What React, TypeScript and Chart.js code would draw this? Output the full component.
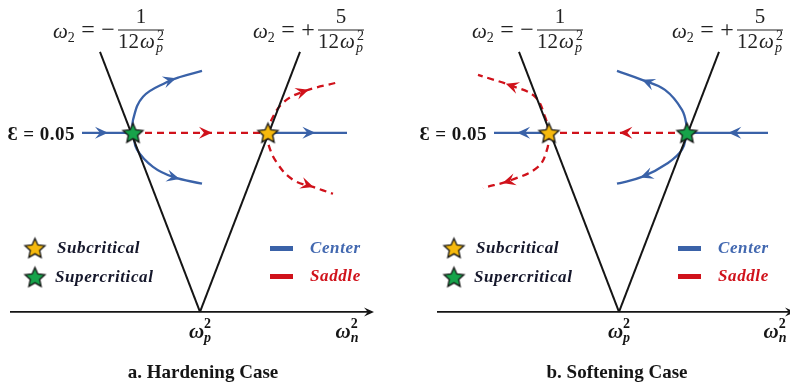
import React, { useEffect, useRef } from "react";
import { Chart, registerables } from "chart.js";

Chart.register(...registerables);

type Pt = [number, number];

// Vertical axis is the detuning level ε, horizontal axis is ωn² normalised so that ωp² = 1.
const EPSILON = 0.05;
const OMEGA_P2 = 1;
const Y_RANGE: Pt = [-0.0204, 0.0871];
const PX_PER_UNIT = 200;

// Stability boundaries ω2 = −1/(12ωp²) and ω2 = +5/(12ωp²), meeting at ωp².
const boundaryMinus: Pt[] = [[OMEGA_P2, 0], [0.5, 0.0726]];
const boundaryPlus: Pt[] = [[OMEGA_P2, 0], [1.5, 0.0726]];

// a. Hardening case
const hardAxis: Pt[] = [[0.05, 0], [1.86, 0]];
const hardRowIn: Pt[] = [[0.41, EPSILON], [0.665, EPSILON]];
const hardRowSaddle: Pt[] = [[0.665, EPSILON], [1.34, EPSILON]];
const hardRowOut: Pt[] = [[1.34, EPSILON], [1.735, EPSILON]];
const hardCenterUp: Pt[] = [[0.665, 0.05], [0.665, 0.0536], [0.715, 0.0601], [0.835, 0.0642], [0.9, 0.0656], [1.01, 0.0673]];
const hardCenterDown: Pt[] = [[0.665, 0.05], [0.685, 0.0453], [0.765, 0.0405], [0.865, 0.0377], [1.01, 0.0358]];
const hardSaddleUp: Pt[] = [[1.34, 0.05], [1.35, 0.0528], [1.415, 0.0584], [1.515, 0.0615], [1.695, 0.0642]];
const hardSaddleDown: Pt[] = [[1.34, 0.05], [1.34, 0.0472], [1.385, 0.0416], [1.465, 0.0369], [1.565, 0.0349], [1.665, 0.033]];
const hardSubcritical: Pt[] = [[1.34, EPSILON]];
const hardSupercritical: Pt[] = [[0.665, EPSILON]];
const hardArrowAt = [0.51, 0.585, 0.6, 0.74, 0.755, 0.67, 0.79];

// b. Softening case
const softAxis: Pt[] = [[0.09, 0], [1.87, 0]];
const softRowIn: Pt[] = [[1.745, EPSILON], [1.34, EPSILON]];
const softRowSaddle: Pt[] = [[1.34, EPSILON], [0.65, EPSILON]];
const softRowOut: Pt[] = [[0.65, EPSILON], [0.375, EPSILON]];
const softCenterUp: Pt[] = [[1.34, 0.05], [1.34, 0.0514], [1.315, 0.0564], [1.23, 0.062], [1.115, 0.0648], [0.99, 0.0673]];
const softCenterDown: Pt[] = [[1.34, 0.05], [1.315, 0.0453], [1.245, 0.0416], [1.115, 0.0377], [0.99, 0.0358]];
const softSaddleUp: Pt[] = [[0.65, 0.05], [0.63, 0.0545], [0.58, 0.0601], [0.465, 0.0631], [0.295, 0.0662]];
const softSaddleDown: Pt[] = [[0.65, 0.05], [0.64, 0.0453], [0.595, 0.0405], [0.465, 0.0369], [0.32, 0.0346]];
const softSubcritical: Pt[] = [[0.65, EPSILON]];
const softSupercritical: Pt[] = [[1.34, EPSILON]];
const softArrowAt = [0.49, 0.49, 0.58, 0.74, 0.74, 0.71, 0.79];

const BLUE = "#3a62a8";
const RED = "#d0121b";
const INK = "#151515";
const YELLOW = "#f6b90d";
const GREEN = "#16a34a";

interface PanelSpec {
  left: number;
  width: number;
  axis: Pt[];
  rowIn: Pt[];
  rowSaddle: Pt[];
  rowOut: Pt[];
  centerUp: Pt[];
  centerDown: Pt[];
  saddleUp: Pt[];
  saddleDown: Pt[];
  subcritical: Pt[];
  supercritical: Pt[];
  arrowAt: number[];
  caption: string;
  captionX: number;
  flowLegendX: number;
  nLabelX: number;
}

const PANELS: PanelSpec[] = [
  {
    left: 0, width: 419,
    axis: hardAxis, rowIn: hardRowIn, rowSaddle: hardRowSaddle, rowOut: hardRowOut,
    centerUp: hardCenterUp, centerDown: hardCenterDown, saddleUp: hardSaddleUp, saddleDown: hardSaddleDown,
    subcritical: hardSubcritical, supercritical: hardSupercritical, arrowAt: hardArrowAt,
    caption: "a. Hardening Case", captionX: 203, flowLegendX: 270, nLabelX: 347,
  },
  {
    left: 419, width: 371,
    axis: softAxis, rowIn: softRowIn, rowSaddle: softRowSaddle, rowOut: softRowOut,
    centerUp: softCenterUp, centerDown: softCenterDown, saddleUp: softSaddleUp, saddleDown: softSaddleDown,
    subcritical: softSubcritical, supercritical: softSupercritical, arrowAt: softArrowAt,
    caption: "b. Softening Case", captionX: 198, flowLegendX: 259, nLabelX: 356,
  },
];

const toXY = (pts: Pt[]) => pts.map(([x, y]) => ({ x, y }));

function starImage(fill: string, r = 10.5): HTMLCanvasElement {
  const size = Math.ceil(r * 2 + 4);
  const c = document.createElement("canvas");
  c.width = size;
  c.height = size;
  const g = c.getContext("2d")!;
  g.translate(size / 2, size / 2 + 0.9);
  g.beginPath();
  for (let i = 0; i < 10; i++) {
    const rad = i % 2 === 0 ? r : r * 0.47;
    const a = -Math.PI / 2 + (i * Math.PI) / 5;
    g.lineTo(rad * Math.cos(a), rad * Math.sin(a));
  }
  g.closePath();
  g.fillStyle = fill;
  g.fill();
  g.lineWidth = 1.3;
  g.lineJoin = "miter";
  g.strokeStyle = INK;
  g.stroke();
  return c;
}

function flowLine(pts: Pt[], color: string, dashed: boolean, curved: boolean) {
  return {
    data: toXY(pts),
    showLine: true,
    borderColor: color,
    borderWidth: 2.3,
    borderDash: dashed ? [7, 5] : [],
    tension: curved ? 0.4 : 0,
    pointRadius: 0,
    order: 3,
    clip: false as const,
  };
}

// Sample a dataset's rendered path (following bezier control points when the line is curved).
function renderedPath(meta: any): { x: number; y: number }[] {
  const pts = meta.data as any[];
  const out: { x: number; y: number }[] = [];
  pts.forEach((p, i) => {
    if (i === 0) {
      out.push({ x: p.x, y: p.y });
      return;
    }
    const a = pts[i - 1];
    if (a.cp2x !== undefined && p.cp1x !== undefined) {
      for (let s = 1; s <= 20; s++) {
        const t = s / 20;
        const u = 1 - t;
        out.push({
          x: u * u * u * a.x + 3 * u * u * t * a.cp2x + 3 * u * t * t * p.cp1x + t * t * t * p.x,
          y: u * u * u * a.y + 3 * u * u * t * a.cp2y + 3 * u * t * t * p.cp1y + t * t * t * p.y,
        });
      }
    } else {
      out.push({ x: p.x, y: p.y });
    }
  });
  return out;
}

function drawArrowHead(ctx: CanvasRenderingContext2D, x: number, y: number, angle: number, color: string, len = 13, half = 6) {
  ctx.save();
  ctx.translate(x, y);
  ctx.rotate(angle);
  ctx.beginPath();
  ctx.moveTo(0, 0);
  ctx.lineTo(-len, -half);
  ctx.lineTo(-len * 0.62, 0);
  ctx.lineTo(-len, half);
  ctx.closePath();
  ctx.fillStyle = color;
  ctx.fill();
  ctx.restore();
}

function flowArrows(spec: PanelSpec) {
  return {
    id: "flowArrows",
    afterDatasetsDraw(chart: any) {
      const ctx: CanvasRenderingContext2D = chart.ctx;
      spec.arrowAt.forEach((frac, k) => {
        const dsIndex = k + 1;
        const meta = chart.getDatasetMeta(dsIndex);
        const color = chart.data.datasets[dsIndex].borderColor;
        const path = renderedPath(meta);
        const lens = [0];
        for (let i = 1; i < path.length; i++) {
          lens.push(lens[i - 1] + Math.hypot(path[i].x - path[i - 1].x, path[i].y - path[i - 1].y));
        }
        const target = lens[lens.length - 1] * frac;
        let i = 1;
        while (i < path.length - 1 && lens[i] < target) i++;
        const a = path[i - 1];
        const b = path[i];
        const t = (target - lens[i - 1]) / Math.max(1e-6, lens[i] - lens[i - 1]);
        const x = a.x + (b.x - a.x) * t;
        const y = a.y + (b.y - a.y) * t;
        drawArrowHead(ctx, x, y, Math.atan2(b.y - a.y, b.x - a.x), color);
      });
      // arrow at the end of the ωn² axis
      const axisMeta = chart.getDatasetMeta(0);
      const end = axisMeta.data[axisMeta.data.length - 1];
      drawArrowHead(ctx, end.x + 2, end.y, 0, INK, 10, 4.5);
    },
  };
}

const SERIF = '"Liberation Serif", "DejaVu Serif", serif';

function drawFraction(ctx: CanvasRenderingContext2D, cx: number, barY: number, sign: string, num: string) {
  const x0 = cx - 23;
  const x1 = cx + 23;
  ctx.save();
  ctx.fillStyle = "#222";
  ctx.strokeStyle = "#222";
  ctx.lineWidth = 1.1;
  ctx.beginPath();
  ctx.moveTo(x0, barY);
  ctx.lineTo(x1, barY);
  ctx.stroke();
  ctx.textBaseline = "alphabetic";
  ctx.textAlign = "center";
  ctx.font = `21px ${SERIF}`;
  ctx.fillText(num, cx, barY - 7);

  // denominator 12ωp²
  ctx.textAlign = "left";
  ctx.font = `21px ${SERIF}`;
  const w12 = ctx.measureText("12").width;
  ctx.font = `italic 21px ${SERIF}`;
  const wOm = ctx.measureText("ω").width;
  ctx.font = `italic 14px ${SERIF}`;
  const wP = ctx.measureText("p").width;
  const total = w12 + 1 + wOm + wP + 2;
  let x = cx - total / 2;
  const base = barY + 18;
  ctx.font = `21px ${SERIF}`;
  ctx.fillText("12", x, base);
  x += w12 + 1;
  ctx.font = `italic 21px ${SERIF}`;
  ctx.fillText("ω", x, base);
  x += wOm + 1;
  ctx.font = `italic 14px ${SERIF}`;
  ctx.fillText("p", x, base + 4);
  ctx.font = `14px ${SERIF}`;
  ctx.fillText("2", x + 1, base - 8);

  // ω2 = ±
  const lx = x0 - 65;
  ctx.font = `italic 21px ${SERIF}`;
  ctx.fillText("ω", lx, barY + 8);
  ctx.font = `14px ${SERIF}`;
  ctx.fillText("2", lx + wOm, barY + 12);
  ctx.textAlign = "center";
  ctx.font = `24px ${SERIF}`;
  ctx.fillText("=", x0 - 30, barY + 7);
  ctx.fillText(sign, x0 - 10, barY + 7);
  ctx.restore();
}

function drawOmegaSq(ctx: CanvasRenderingContext2D, cx: number, base: number, sub: string) {
  ctx.save();
  ctx.fillStyle = INK;
  ctx.textAlign = "left";
  ctx.textBaseline = "alphabetic";
  ctx.font = `bold italic 21px ${SERIF}`;
  const wOm = ctx.measureText("ω").width;
  ctx.font = `bold italic 14px ${SERIF}`;
  const wS = ctx.measureText(sub).width;
  let x = cx - (wOm + wS) / 2;
  ctx.font = `bold italic 21px ${SERIF}`;
  ctx.fillText("ω", x, base);
  x += wOm;
  ctx.font = `bold italic 14px ${SERIF}`;
  ctx.fillText(sub, x, base + 4);
  ctx.font = `bold 14px ${SERIF}`;
  ctx.fillText("2", x, base - 10);
  ctx.restore();
}

function annotations(spec: PanelSpec, subStar: HTMLCanvasElement, superStar: HTMLCanvasElement) {
  return {
    id: "annotations",
    afterDraw(chart: any) {
      const ctx: CanvasRenderingContext2D = chart.ctx;
      const xs = chart.scales.x;
      const ys = chart.scales.y;

      // ε label, left of the sweep line
      const rowLeft = Math.min(...[...spec.rowIn, ...spec.rowOut].map((p) => p[0]));
      ctx.save();
      ctx.fillStyle = INK;
      ctx.textAlign = "right";
      ctx.textBaseline = "alphabetic";
      ctx.font = `bold 19px ${SERIF}`;
      (ctx as any).letterSpacing = "0.5px";
      ctx.fillText("Ɛ = 0.05", xs.getPixelForValue(rowLeft) - 7, ys.getPixelForValue(EPSILON) + 7);
      (ctx as any).letterSpacing = "0px";
      ctx.restore();

      // boundary labels above each line
      const barY = ys.getPixelForValue(boundaryMinus[1][1]) - 22;
      drawFraction(ctx, xs.getPixelForValue(boundaryMinus[1][0]) + 41, barY, "−", "1");
      drawFraction(ctx, xs.getPixelForValue(boundaryPlus[1][0]) + 41, barY, "+", "5");

      // axis labels
      const axisY = ys.getPixelForValue(0);
      drawOmegaSq(ctx, xs.getPixelForValue(OMEGA_P2), axisY + 26, "p");
      drawOmegaSq(ctx, spec.nLabelX, axisY + 26, "n");

      // legend: bifurcation types
      ctx.save();
      ctx.drawImage(subStar, 35 - subStar.width / 2, 248 - subStar.height / 2);
      ctx.drawImage(superStar, 35 - superStar.width / 2, 277 - superStar.height / 2);
      ctx.textAlign = "left";
      ctx.textBaseline = "alphabetic";
      ctx.font = `bold italic 17px ${SERIF}`;
      (ctx as any).letterSpacing = "0.6px";
      ctx.fillStyle = "#15172b";
      ctx.fillText("Subcritical", 57, 253);
      ctx.fillText("Supercritical", 55, 282);

      // legend: equilibrium types
      const lx = spec.flowLegendX;
      ctx.fillStyle = BLUE;
      ctx.fillRect(lx, 246, 23, 5);
      ctx.fillStyle = RED;
      ctx.fillRect(lx, 274, 23, 5);
      ctx.fillStyle = "#4268b0";
      ctx.fillText("Center", lx + 40, 253);
      ctx.fillStyle = RED;
      ctx.fillText("Saddle", lx + 40, 281);
      (ctx as any).letterSpacing = "0px";

      // caption
      ctx.fillStyle = INK;
      ctx.textAlign = "center";
      ctx.font = `bold 19px ${SERIF}`;
      ctx.fillText(spec.caption, spec.captionX, 378);
      ctx.restore();
    },
  };
}

function Panel({ spec }: { spec: PanelSpec }) {
  const ref = useRef<HTMLCanvasElement>(null);
  useEffect(() => {
    const canvas = ref.current;
    if (!canvas) return;
    const subStar = starImage(YELLOW);
    const superStar = starImage(GREEN);
    const datasets: any[] = [
      { data: toXY(spec.axis), showLine: true, borderColor: INK, borderWidth: 1.7, pointRadius: 0, order: 5, clip: false },
      flowLine(spec.rowIn, BLUE, false, false),
      flowLine(spec.rowSaddle, RED, true, false),
      flowLine(spec.rowOut, BLUE, false, false),
      flowLine(spec.centerUp, BLUE, false, true),
      flowLine(spec.centerDown, BLUE, false, true),
      flowLine(spec.saddleUp, RED, true, true),
      flowLine(spec.saddleDown, RED, true, true),
      { data: toXY(boundaryMinus), showLine: true, borderColor: INK, borderWidth: 2, pointRadius: 0, order: 2, clip: false },
      { data: toXY(boundaryPlus), showLine: true, borderColor: INK, borderWidth: 2, pointRadius: 0, order: 2, clip: false },
      { data: toXY(spec.subcritical), showLine: false, pointStyle: subStar, pointRadius: 10, order: 0, clip: false },
      { data: toXY(spec.supercritical), showLine: false, pointStyle: superStar, pointRadius: 10, order: 0, clip: false },
    ];
    const chart = new Chart(canvas, {
      type: "scatter",
      data: { datasets },
      options: {
        responsive: false,
        maintainAspectRatio: false,
        animation: false,
        devicePixelRatio: 1,
        events: [],
        layout: { padding: 0, autoPadding: false },
        scales: {
          x: { type: "linear", min: 0, max: spec.width / PX_PER_UNIT, display: false },
          y: { type: "linear", min: Y_RANGE[0], max: Y_RANGE[1], display: false },
        },
        plugins: { legend: { display: false }, tooltip: { enabled: false } },
      },
      plugins: [flowArrows(spec), annotations(spec, subStar, superStar)],
    } as any);
    return () => chart.destroy();
  }, [spec]);
  return (
    <canvas
      ref={ref}
      width={spec.width}
      height={385}
      style={{ position: "absolute", left: spec.left, top: 0, width: spec.width, height: 385, display: "block" }}
    />
  );
}

export default function App() {
  return (
    <div style={{ position: "fixed", left: 0, top: 0, width: 790, height: 385, background: "#fff", overflow: "hidden" }}>
      {PANELS.map((p) => (
        <Panel key={p.caption} spec={p} />
      ))}
    </div>
  );
}
